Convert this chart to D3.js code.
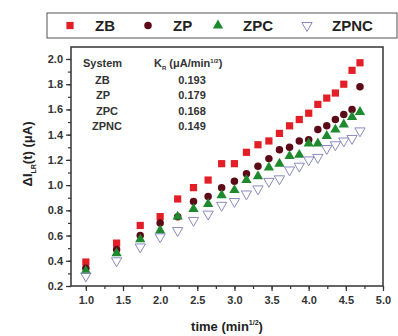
<!DOCTYPE html>
<html>
<head>
<meta charset="utf-8">
<script src="https://cdn.jsdelivr.net/npm/d3@7"></script>
<style>
  body { margin: 0; background: #fff; }
  svg { font-family: "Liberation Sans", Arial, sans-serif; font-weight: bold; }
</style>
</head>
<body>
<div id="chart"></div>
<script>
// time axis values (min^1/2)
const timeVals = [1.0, 1.414, 1.732, 2.0, 2.236, 2.449, 2.646, 2.828, 3.0, 3.162, 3.317,
  3.464, 3.606, 3.742, 3.873, 4.0, 4.123, 4.243, 4.359, 4.472, 4.583, 4.690];

const zbVals = [0.39, 0.54, 0.68, 0.75, 0.89, 0.98, 1.04, 1.17, 1.17, 1.26, 1.32,
  1.35, 1.41, 1.47, 1.52, 1.57, 1.64, 1.69, 1.73, 1.80, 1.91, 1.97];
const zpVals = [0.34, 0.49, 0.60, 0.70, 0.75, 0.87, 0.91, 0.98, 1.03, 1.09, 1.15,
  1.21, 1.28, 1.30, 1.35, 1.36, 1.44, 1.47, 1.52, 1.56, 1.60, 1.78];
const zpcVals = [0.32, 0.46, 0.57, 0.64, 0.75, 0.81, 0.85, 0.92, 0.96, 1.04, 1.07,
  1.14, 1.17, 1.23, 1.24, 1.33, 1.33, 1.39, 1.44, 1.48, 1.54, 1.58];
const zpncVals = [0.28, 0.40, 0.51, 0.59, 0.64, 0.72, 0.77, 0.84, 0.87, 0.93, 0.97,
  1.03, 1.05, 1.12, 1.15, 1.20, 1.22, 1.29, 1.32, 1.35, 1.37, 1.43];

const seriesNames = ['ZB', 'ZP', 'ZPC', 'ZPNC'];
const kValues = ['0.193', '0.179', '0.168', '0.149'];
const xTicks = [1.0, 1.5, 2.0, 2.5, 3.0, 3.5, 4.0, 4.5, 5.0];
const yTicks = [0.2, 0.4, 0.6, 0.8, 1.0, 1.2, 1.4, 1.6, 1.8, 2.0];

const series = [
  { name: 'ZB', values: zbVals, symbol: d3.symbolSquare, fill: '#e41e26', stroke: 'none', rot: 0, size: 52 },
  { name: 'ZP', values: zpVals, symbol: d3.symbolCircle, fill: '#5c0a18', stroke: 'none', rot: 0, size: 44 },
  { name: 'ZPC', values: zpcVals, symbol: d3.symbolTriangle, fill: '#1e8a2e', stroke: 'none', rot: 0, size: 46 },
  { name: 'ZPNC', values: zpncVals, symbol: d3.symbolTriangle, fill: 'none', stroke: '#8a8ac0', rot: 180, size: 46 }
];

const W = 398, H = 336;
const margin = { top: 47, right: 15, bottom: 50, left: 71 };
const width = W - margin.left - margin.right;
const height = H - margin.top - margin.bottom;

const svg = d3.select('#chart').append('svg')
  .attr('width', W)
  .attr('height', H);

const x = d3.scaleLinear().domain([0.8, 5.0]).range([0, width]);
const y = d3.scaleLinear().domain([0.2, 2.095]).range([height, 0]);

const g = svg.append('g').attr('transform', `translate(${margin.left},${margin.top})`);

// frame
g.append('rect')
  .attr('width', width).attr('height', height)
  .attr('fill', 'none').attr('stroke', '#333').attr('stroke-width', 1.5);

// x axis with minor ticks
const xAxis = g.append('g').attr('transform', `translate(0,${height})`);
xAxis.call(d3.axisBottom(x).tickValues(d3.range(1.0, 5.01, 0.25)).tickSize(3).tickFormat(''))
  .call(a => a.select('.domain').remove());
xAxis.append('g').call(d3.axisBottom(x).tickValues(xTicks).tickSize(5).tickFormat(d3.format('.1f')))
  .call(a => a.select('.domain').remove())
  .call(a => a.selectAll('text').attr('dy', '0.95em').style('font-size', '11px').attr('fill', '#333'));
xAxis.selectAll('line').attr('stroke', '#333').attr('stroke-width', 1.2);

// y axis with minor ticks
const yAxis = g.append('g');
yAxis.call(d3.axisLeft(y).tickValues(d3.range(0.2, 2.05, 0.1)).tickSize(3).tickFormat(''))
  .call(a => a.select('.domain').remove());
yAxis.append('g').call(d3.axisLeft(y).tickValues(yTicks).tickSize(5).tickFormat(d3.format('.1f')))
  .call(a => a.select('.domain').remove())
  .call(a => a.selectAll('text').style('font-size', '11px').attr('fill', '#333'));
yAxis.selectAll('line').attr('stroke', '#333').attr('stroke-width', 1.2);

// points
series.forEach(s => {
  g.append('g').selectAll('path')
    .data(s.values)
    .join('path')
    .attr('d', d3.symbol().type(s.symbol).size(s.size))
    .attr('transform', (d, i) => `translate(${x(timeVals[i])},${y(d)}) rotate(${s.rot})`)
    .attr('fill', s.fill)
    .attr('stroke', s.stroke)
    .attr('stroke-width', 1);
});

// inset table
const tbl = g.append('g').style('font-size', '11px').attr('fill', '#333');
tbl.append('text').attr('x', 12).attr('y', 20).text('System');
const kr = tbl.append('text').attr('x', 83).attr('y', 20);
kr.append('tspan').text('K');
kr.append('tspan').attr('dy', 3).style('font-size', '6px').text('R');
kr.append('tspan').attr('dy', -3).text(' (μA/min');
kr.append('tspan').attr('dy', -4).style('font-size', '6px').text('1/2');
kr.append('tspan').attr('dy', 4).text(')');
const nameX = [24, 25, 25, 21];
seriesNames.forEach((n, i) => {
  tbl.append('text').attr('x', nameX[i]).attr('y', 37 + i * 15.3).text(n);
  tbl.append('text').attr('x', 121).attr('y', 37 + i * 15.3).attr('text-anchor', 'middle').text(kValues[i]);
});

// axis titles
const xt = svg.append('text')
  .attr('x', 227).attr('y', 331)
  .attr('text-anchor', 'middle').style('font-size', '13px').attr('fill', '#222');
xt.append('tspan').text('time (min');
xt.append('tspan').attr('dy', -6).style('font-size', '7px').text('1/2');
xt.append('tspan').attr('dy', 6).text(')');

const yt = svg.append('text')
  .attr('transform', `translate(32,154) rotate(-90)`)
  .attr('text-anchor', 'middle').style('font-size', '13px').attr('fill', '#222');
yt.append('tspan').text('ΔI');
yt.append('tspan').attr('dy', 4).style('font-size', '7px').text('LR');
yt.append('tspan').attr('dy', -4).text('(t) (μA)');

// legend
const leg = svg.append('g');
leg.append('rect').attr('x', 47).attr('y', 13).attr('width', 350).attr('height', 25)
  .attr('fill', '#fff').attr('stroke', '#555').attr('stroke-width', 1);
const legX = [70, 148, 218, 307];
series.forEach((s, i) => {
  leg.append('path')
    .attr('d', d3.symbol().type(s.symbol).size(s.size))
    .attr('transform', `translate(${legX[i]},25.5) rotate(${s.rot})`)
    .attr('fill', s.fill).attr('stroke', s.stroke);
  leg.append('text').attr('x', legX[i] + 25).attr('y', 31)
    .style('font-size', '15px').attr('fill', '#222').text(s.name);
});
</script>
</body>
</html>
